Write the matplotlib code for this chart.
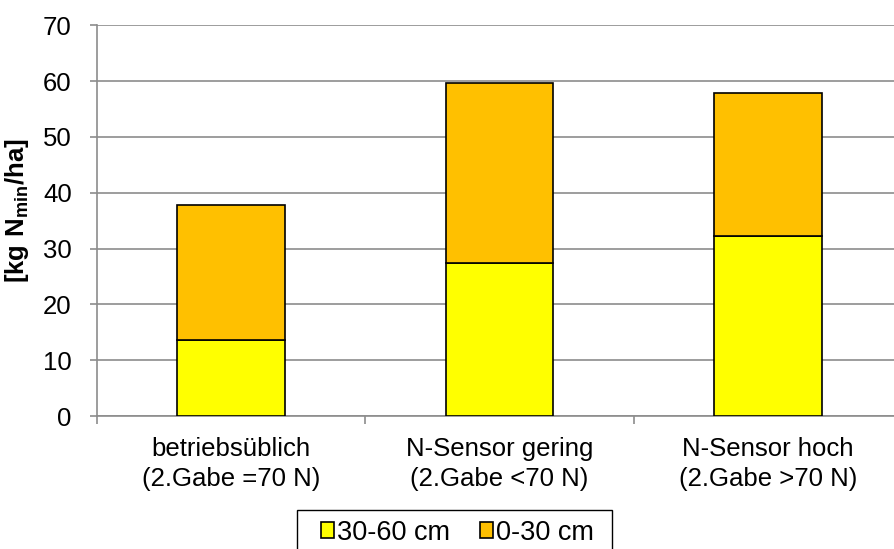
import matplotlib
matplotlib.use("Agg")
import matplotlib.pyplot as plt
from matplotlib.patches import Rectangle
import numpy as np

# Nmin values per treatment, split by soil depth
categories = ["betriebsüblich\n(2.Gabe =70 N)",
              "N-Sensor gering\n(2.Gabe <70 N)",
              "N-Sensor hoch\n(2.Gabe >70 N)"]
deep_30_60 = [13.7, 27.5, 32.3]
top_0_30 = [24.2, 32.2, 25.5]
series_labels = ["30-60 cm", "0-30 cm"]

plt.rcParams["font.family"] = ["Liberation Sans", "DejaVu Sans"]
plt.rcParams["mathtext.fontset"] = "custom"
plt.rcParams["mathtext.rm"] = "Liberation Sans"
plt.rcParams["mathtext.bf"] = "Liberation Sans:bold"

fs = 18.5
grid_grey = "#8c8c8c"

fig = plt.figure(figsize=(8.95, 5.49), dpi=100)
ax = fig.add_axes([0.108, 0.242, 0.9, 0.712])

x = np.arange(len(categories))
width = 0.4
ax.bar(x, deep_30_60, width, color="#ffff00", edgecolor="black", linewidth=1.2,
       label=series_labels[0], zorder=3)
ax.bar(x, top_0_30, width, bottom=deep_30_60, color="#ffc000", edgecolor="black",
       linewidth=1.2, label=series_labels[1], zorder=3)

ax.set_xlim(-0.5, len(categories) - 0.5)
ax.set_ylim(0, 70)
ax.set_yticks(np.arange(0, 71, 10))
ax.yaxis.grid(True, color=grid_grey, linewidth=1.2, zorder=0)
ax.set_axisbelow(True)

for side in ("top", "right"):
    ax.spines[side].set_visible(False)
for side in ("left", "bottom"):
    ax.spines[side].set_color(grid_grey)
    ax.spines[side].set_linewidth(1.2)

ax.set_xticks(x)
ax.set_xticklabels(categories, fontsize=fs, linespacing=1.3)
ax.set_xticks(np.arange(-0.5, len(categories), 1.0), minor=True)
ax.tick_params(axis="x", which="major", length=0, pad=15)
ax.tick_params(axis="x", which="minor", length=6, color=grid_grey, width=1.2)
ax.tick_params(axis="y", length=5, color=grid_grey, width=1.2, labelsize=fs, pad=13)

ax.set_ylabel(r"$\mathbf{[kg\ N_{min}/ha]}$", fontsize=fs)
ax.yaxis.set_label_coords(-0.082, 0.525)

# legend box sits at the bottom edge and runs past it
fig.patches.append(Rectangle((0.332, -0.05), 0.352, 0.05 + 1 - 510 / 549,
                             transform=fig.transFigure, fill=False,
                             edgecolor="black", linewidth=1.0))
fig.legend(loc="center", bbox_to_anchor=(0.511, 0.03), ncol=2,
           fontsize=19.5, frameon=False,
           handlelength=0.5, handleheight=0.5, handletextpad=0.1,
           columnspacing=1.1, borderpad=0, borderaxespad=0)

fig.savefig("out.png", dpi=100)
